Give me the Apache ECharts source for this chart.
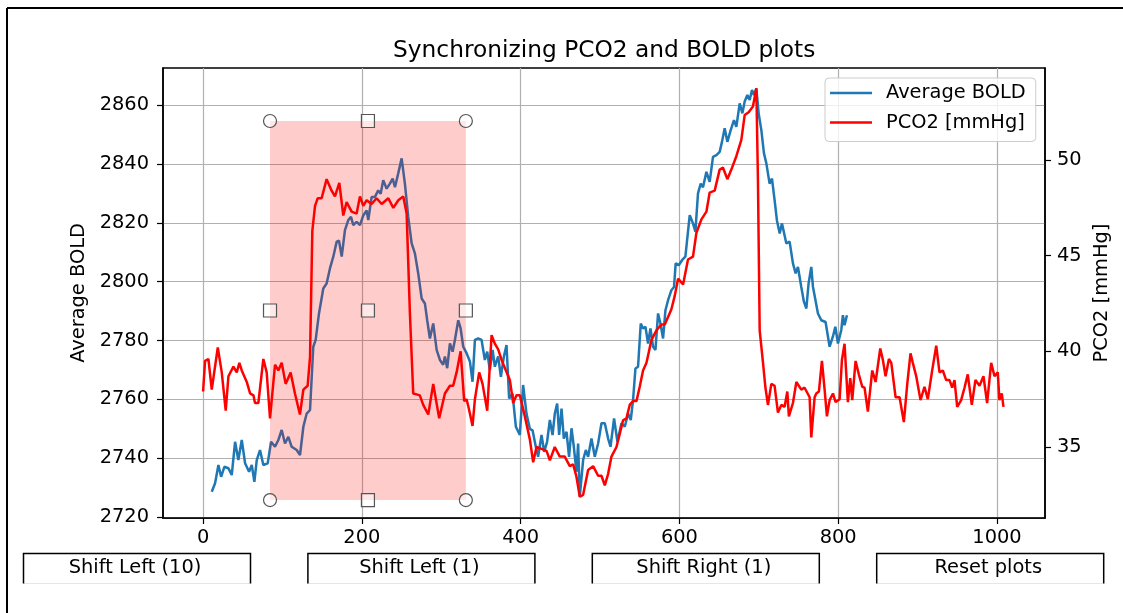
<!DOCTYPE html>
<html>
<head>
<meta charset="utf-8">
<script src="https://cdn.jsdelivr.net/npm/echarts@6/dist/echarts.min.js"></script>
<style>
  html, body { margin: 0; padding: 0; background: #ffffff; }
  #chart { width: 1123px; height: 613px; }
</style>
</head>
<body>
<div id="chart"></div>
<script>
// Average BOLD signal (left axis)
const boldTime = [10.9, 15.1, 19.3, 22.7, 26.8, 31.9, 36.1, 40.3, 44.4, 48.7, 52.9, 57.9, 61.3, 64.6, 67.6, 71.7, 75.9, 81.4, 85.6, 90.6,
  94.8, 99, 103.2, 107.4, 111.6, 117.9, 122.1, 126.3, 130.5, 134.7, 138.8, 141.8, 146, 151.4, 155.6, 159.8, 164, 168.3, 171.2, 174.6,
  178.7, 182.9, 186.3, 189.2, 193.4, 197.6, 201.8, 206, 208.1, 212.3, 216.5, 220.6, 223.7, 226.9, 231.2, 235.3, 238.8, 241.7, 245.8, 250.1,
  254.2, 258.4, 262.7, 266.8, 271, 275.3, 279.4, 282.3, 285.7, 289.9, 294.2, 298.3, 302.4, 304.6, 307.5, 310.9, 314.3, 317.2, 321.4, 324.4,
  327.7, 331.9, 336.1, 339.4, 342.4, 346.5, 350.8, 354.9, 357.9, 361.2, 364.7, 367.5, 371.7, 375.1, 378.9, 382.2, 385.5, 389.8, 394, 399,
  403.1, 407.4, 411.6, 415, 419.1, 422, 426.3, 429.6, 433.3, 436.8, 440.2, 443, 446, 448.5, 451.5, 454.4, 457.8, 461, 464.1, 467,
  470.3, 472.4, 474.5, 478.7, 482.1, 485, 489.2, 493.4, 497.6, 501.8, 506, 510.2, 513.2, 517.7, 521.9, 527, 531.2, 535.3, 538.7, 541.6,
  544.6, 547.9, 551.3, 554.2, 557.2, 560.5, 563.5, 566.8, 569.8, 573.1, 576.1, 579.4, 582.4, 585.7, 589.9, 593.2, 595.3, 599.1, 603.3, 607.5,
  613, 617.1, 620.1, 623.4, 626.8, 629.7, 634, 638.1, 642.3, 646.6, 650.7, 653.6, 657, 660.4, 664.6, 668.7, 671.7, 675.9, 679.3, 682.2,
  685.6, 688.5, 691.4, 693.9, 696.9, 699.8, 703.2, 706.5, 709.5, 713.6, 716.6, 719.9, 722.8, 726.3, 729.2, 731.6, 734.7, 738.8, 743, 746.4,
  749.3, 753.5, 756.8, 759.9, 762.7, 766.1, 768.2, 774.5, 778.7, 784.1, 789.2, 793.3, 796.4, 799.7, 803.9, 805.9, 808, 811];
const boldValues = [2728.6, 2731.5, 2737.7, 2733.7, 2737.1, 2736.6, 2734.3, 2745.6, 2739.4, 2746.2, 2738.3, 2735.4, 2737.7, 2732.0, 2739.4, 2742.8, 2737.7, 2738.3, 2745.6, 2743.9,
  2746.2, 2749.6, 2745.0, 2747.3, 2743.9, 2742.8, 2741.1, 2750.7, 2755.2, 2756.4, 2777.9, 2780.2, 2789.2, 2797.7, 2799.4, 2804.5, 2808.5, 2813.6, 2813.9, 2808.5,
  2817.5, 2820.9, 2822.0, 2819.2, 2820.3, 2819.2, 2822.5, 2824.2, 2820.9, 2828.8, 2828.8, 2831.0, 2829.9, 2834.5, 2831.6, 2833.3, 2835.0, 2832.1, 2836.8, 2841.9,
  2833.3, 2822.0, 2813.0, 2809.6, 2802.8, 2794.3, 2792.6, 2786.9, 2780.7, 2785.8, 2776.8, 2773.4, 2771.8, 2774.6, 2770.6, 2779.0, 2776.2, 2780.2, 2786.9, 2784.1,
  2777.9, 2775.7, 2772.9, 2766.0, 2780.2, 2780.7, 2780.2, 2773.4, 2776.2, 2770.0, 2776.8, 2771.1, 2774.6, 2767.7, 2774.6, 2778.5, 2760.3, 2762.0, 2750.7, 2747.9,
  2764.9, 2755.1, 2750.0, 2749.5, 2743.9, 2740.5, 2747.9, 2742.2, 2745.6, 2753.0, 2747.9, 2755.1, 2758.6, 2747.9, 2756.9, 2746.7, 2749.0, 2740.5, 2750.2, 2743.9,
  2735.4, 2745.0, 2727.0, 2739.4, 2742.8, 2740.5, 2746.7, 2740.5, 2745.0, 2751.9, 2751.9, 2746.7, 2743.9, 2753.5, 2745.6, 2751.9, 2750.7, 2755.2, 2753.0, 2759.8,
  2770.5, 2771.1, 2785.8, 2784.1, 2784.7, 2779.0, 2784.1, 2777.9, 2776.8, 2789.2, 2785.8, 2780.7, 2790.3, 2793.7, 2797.1, 2798.2, 2806.2, 2805.6, 2807.3, 2808.5,
  2822.6, 2819.8, 2817.0, 2830.0, 2833.3, 2832.1, 2837.3, 2833.9, 2842.4, 2843.0, 2844.1, 2847.5, 2852.1, 2847.5, 2851.5, 2854.9, 2852.6, 2860.6, 2857.2, 2861.2,
  2863.4, 2861.7, 2865.1, 2863.4, 2865.7, 2857.2, 2851.5, 2843.6, 2840.2, 2833.3, 2835.0, 2827.7, 2820.9, 2816.4, 2819.8, 2820.3, 2813.0, 2813.6, 2806.2, 2802.8,
  2805.0, 2798.2, 2793.2, 2790.9, 2799.4, 2805.0, 2798.3, 2789.2, 2786.9, 2786.3, 2777.9, 2781.3, 2784.7, 2779.0, 2783.6, 2788.6, 2785.2, 2788.6];

// PCO2 trace in mmHg (right axis)
const pco2Time = [0, 2.5, 6.7, 10.9, 18.5, 23.5, 28.5, 31.9, 38.2, 42.4, 45.7, 48.7, 55, 59.2, 63.4, 65.4, 69.6, 75.9, 80.1, 84.3,
  90.6, 94.8, 99, 104, 110.3, 115.7, 122, 126.3, 131.7, 134.7, 137.6, 141, 144.3, 149.3, 155.6, 161.9, 166.1, 171.6, 176.6, 180.8,
  187.1, 193.4, 197.6, 201.8, 206, 212.3, 218.6, 224.9, 233.3, 239.6, 245.9, 252.1, 256.4, 260.5, 264.7, 268.9, 273, 277.3, 283.6, 289.9,
  297.4, 304.6, 310.9, 315, 319.3, 324.4, 328.9, 331.9, 334.8, 339.4, 342.4, 347.8, 352, 357.9, 363.4, 367.5, 371.7, 376, 381.4, 386.4,
  390.6, 394.8, 399, 405.3, 411.6, 415.8, 420, 426.3, 432.6, 436.8, 443, 449.3, 455.6, 461.9, 466.1, 470.3, 474.5, 478.7, 485, 491.3,
  497.6, 501.8, 506, 510.2, 514.4, 520.7, 524.9, 529, 533.3, 537.4, 541.6, 545.9, 550, 554.2, 558.5, 564.8, 571.1, 577.3, 581.5, 585.7,
  589.9, 594.1, 598.3, 604.6, 610.8, 617.1, 621.4, 627.7, 634, 638.1, 644.4, 650.7, 654.9, 660.4, 665.4, 671.7, 678, 682.2, 687.2, 692.6,
  696.9, 698.9, 701.1, 705.3, 708.2, 711.5, 715.8, 719.9, 724.1, 728.4, 732.5, 735.9, 737.9, 743, 747.3, 753.5, 757.7, 764, 766.1, 770.3,
  772.4, 775.7, 779.5, 782.9, 785.8, 789.2, 793.4, 796.7, 801.8, 804.7, 808, 812.2, 815.2, 817.7, 821.9, 826, 830.3, 833.2, 837.4, 842.9,
  847.1, 853, 856.3, 859.7, 863.9, 866.9, 872.3, 877.3, 882.7, 887, 891.1, 894, 898.3, 903.7, 908.7, 912.9, 918, 923.5, 927.6, 931.8,
  936, 940.2, 943.6, 946.5, 949.9, 954.9, 959.1, 963.2, 968.3, 972.9, 978, 983, 987.6, 992.7, 996.9, 1001, 1003.1, 1006, 1008.2];
const pco2Values = [37.9, 39.5, 39.6, 38.0, 40.2, 38.9, 36.9, 38.7, 39.2, 38.9, 39.4, 39.0, 38.4, 37.8, 37.7, 37.3, 37.3, 39.6, 38.9, 36.5,
  39.3, 39.0, 39.4, 38.3, 38.9, 37.8, 36.7, 38.0, 38.2, 39.7, 46.3, 47.6, 48.0, 48.0, 49.0, 48.4, 48.1, 48.8, 47.1, 47.8,
  47.3, 47.2, 48.1, 47.6, 47.9, 47.7, 48.0, 47.7, 48.0, 47.5, 47.9, 48.1, 47.2, 42.0, 37.8, 37.75, 37.7, 37.2, 36.7, 38.3,
  36.5, 37.8, 38.2, 38.2, 38.9, 40.0, 37.4, 37.5, 37.0, 36.1, 37.5, 38.9, 38.3, 36.9, 40.85, 40.4, 40.1, 39.55, 39.0, 38.5,
  37.3, 37.7, 37.7, 36.6, 35.4, 34.2, 35.0, 34.9, 34.8, 34.3, 35.0, 34.5, 34.5, 34.0, 34.1, 33.45, 32.4, 32.5, 33.8, 34.0,
  33.5, 33.5, 33.0, 33.6, 34.5, 35.0, 35.7, 36.4, 36.5, 37.2, 37.4, 37.4, 38.15, 39.0, 39.4, 40.6, 41.1, 41.4, 41.4, 41.8,
  42.2, 42.9, 43.8, 43.5, 44.8, 44.95, 46.2, 46.9, 47.3, 48.3, 48.4, 49.5, 49.6, 49.0, 49.5, 50.2, 51.05, 52.35, 52.5, 52.8,
  53.75, 49.0, 41.1, 39.4, 38.15, 37.2, 38.3, 38.2, 36.8, 37.2, 37.1, 37.9, 36.6, 37.3, 38.4, 38.0, 38.1, 37.6, 35.5, 37.6,
  37.8, 37.9, 39.5, 38.0, 36.6, 37.45, 37.8, 37.35, 37.5, 39.55, 40.4, 37.35, 38.6, 37.45, 39.5, 38.8, 38.15, 38.1, 36.85, 39.0,
  38.4, 40.15, 39.55, 38.7, 39.6, 39.4, 37.6, 37.6, 36.3, 38.3, 39.9, 39.4, 38.7, 37.45, 38.15, 37.5, 38.9, 40.3, 38.9, 39.0,
  38.5, 38.5, 38.1, 38.5, 37.1, 37.45, 38.1, 38.8, 37.2, 38.5, 38.2, 38.7, 37.3, 39.4, 38.7, 38.9, 37.45, 37.8, 37.1];

// Tick values
const xTicks = [0, 200, 400, 600, 800, 1000];
const boldTicks = [2720, 2740, 2760, 2780, 2800, 2820, 2840, 2860];
const pco2Ticks = [35, 40, 45, 50];

// Selection rectangle (time range, BOLD range)
const selectionX = [84.3, 331];
const selectionY = [2725.8, 2854.6];

// Control buttons under the plot
const buttonLabels = ['Shift Left (10)', 'Shift Left (1)', 'Shift Right (1)', 'Reset plots'];

const FONT = 'DejaVu Sans';
const TICK_FONT = 19.4;
const plain = v => String(v);

const boldData = boldTime.map((t, i) => [t, boldValues[i]]);
const pco2Data = pco2Time.map((t, i) => [t, pco2Values[i]]);

const [sx0, sx1] = selectionX;
const [sy0, sy1] = selectionY;
const sxm = (sx0 + sx1) / 2;
const sym = (sy0 + sy1) / 2;
const handleStyle = { color: 'rgba(255,255,255,0.55)', borderColor: '#555555', borderWidth: 1.2 };
const handles = [
  [sx0, sy1, 'circle'], [sx1, sy1, 'circle'], [sx0, sy0, 'circle'], [sx1, sy0, 'circle'],
  [sxm, sy1, 'rect'], [sx0, sym, 'rect'], [sx1, sym, 'rect'], [sxm, sy0, 'rect'], [sxm, sym, 'rect']
].map(([x, y, s]) => ({ coord: [x, y], symbol: s, itemStyle: handleStyle }));

// Buttons drawn as graphic groups
const buttons = [];
const BTN_W = 227, BTN_H = 30, BTN_TOP = 551;
buttonLabels.forEach((label, i) => {
  const left = 21 + i * 284.4;
  buttons.push({
    type: 'group', left: left, top: BTN_TOP,
    children: [
      { type: 'rect', shape: { x: 0, y: 0, width: BTN_W, height: BTN_H }, style: { fill: '#ffffff' } },
      { type: 'line', shape: { x1: 0, y1: BTN_H, x2: BTN_W, y2: BTN_H }, style: { stroke: '#e6e6e6', lineWidth: 1 } },
      { type: 'polyline', shape: { points: [[0, BTN_H], [0, 0], [BTN_W, 0], [BTN_W, BTN_H]] }, style: { stroke: '#000000', lineWidth: 1.5, fill: null } },
      { type: 'text', x: BTN_W / 2 - 2, y: 14, style: { text: label, font: TICK_FONT + 'px "' + FONT + '"', fill: '#000000', align: 'center', verticalAlign: 'middle' } }
    ]
  });
});

const chart = echarts.init(document.getElementById('chart'), null, { renderer: 'canvas' });

chart.setOption({
  animation: false,
  backgroundColor: '#ffffff',
  textStyle: { fontFamily: FONT },
  title: {
    text: 'Synchronizing PCO2 and BOLD plots',
    left: 388, top: 34,
    textStyle: { fontFamily: FONT, fontSize: 23.3, fontWeight: 'normal', color: '#000000' }
  },
  legend: {
    data: ['Average BOLD', 'PCO2 [mmHg]'],
    orient: 'vertical',
    left: 825, top: 78,
    icon: 'rect',
    itemWidth: 42, itemHeight: 2.5,
    itemGap: 7.5,
    padding: [4, 10, 8, 5],
    backgroundColor: 'rgba(255,255,255,0.8)',
    borderColor: '#cccccc', borderWidth: 1, borderRadius: 4,
    textStyle: { fontFamily: FONT, fontSize: TICK_FONT, color: '#000000', padding: [0, 0, 0, 9], lineHeight: 22 }
  },
  grid: {
    left: 163, right: 78, top: 68, bottom: 95,
    show: true, borderColor: '#000000', borderWidth: 1.5, backgroundColor: 'transparent'
  },
  xAxis: {
    type: 'value',
    min: -50.5, max: 1060.5,
    axisLine: { show: true, onZero: false, lineStyle: { color: '#000000', width: 1.5 } },
    axisTick: { show: true, customValues: xTicks, length: 6, lineStyle: { color: '#000000', width: 1.2 } },
    axisLabel: { customValues: xTicks, formatter: plain, fontFamily: FONT, fontSize: TICK_FONT, color: '#000000', margin: 10 },
    splitLine: { show: true, lineStyle: { color: '#b0b0b0', width: 1.2 } }
  },
  yAxis: [
    {
      type: 'value', position: 'left',
      min: 2719.7, max: 2872.6,
      name: 'Average BOLD', nameLocation: 'middle', nameGap: 70,
      nameTextStyle: { fontFamily: FONT, fontSize: TICK_FONT, color: '#000000' },
      axisLine: { show: true, onZero: false, lineStyle: { color: '#000000', width: 1.5 } },
      axisTick: { show: true, customValues: boldTicks, length: 6, lineStyle: { color: '#000000', width: 1.2 } },
      axisLabel: { customValues: boldTicks, formatter: plain, fontFamily: FONT, fontSize: TICK_FONT, color: '#000000', margin: 14 },
      splitLine: { show: true, lineStyle: { color: '#b0b0b0', width: 1.2 } }
    },
    {
      type: 'value', position: 'right',
      min: 31.29, max: 54.81,
      name: 'PCO2 [mmHg]', nameLocation: 'middle', nameGap: 43,
      nameTextStyle: { fontFamily: FONT, fontSize: TICK_FONT, color: '#000000' },
      axisLine: { show: true, onZero: false, lineStyle: { color: '#000000', width: 1.5 } },
      axisTick: { show: true, customValues: pco2Ticks, length: 6, lineStyle: { color: '#000000', width: 1.2 } },
      axisLabel: { customValues: pco2Ticks, formatter: plain, fontFamily: FONT, fontSize: TICK_FONT, color: '#000000', margin: 12 },
      splitLine: { show: false }
    }
  ],
  series: [
    {
      name: 'Average BOLD', type: 'line', yAxisIndex: 0, data: boldData,
      showSymbol: false, symbol: 'none', z: 2,
      color: '#1f77b4', lineStyle: { color: '#1f77b4', width: 2.5 }
    },
    {
      name: 'PCO2 [mmHg]', type: 'line', yAxisIndex: 1, data: pco2Data,
      showSymbol: false, symbol: 'none', z: 3,
      color: '#ff0000', lineStyle: { color: '#ff0000', width: 2.5 }
    },
    {
      name: 'selection', type: 'line', yAxisIndex: 0, data: [],
      showSymbol: false, z: 6, silent: true,
      markArea: {
        z: 10, silent: true,
        itemStyle: { color: 'rgba(255,0,0,0.2)', borderWidth: 0 },
        data: [[{ coord: [sx0, sy0] }, { coord: [sx1, sy1] }]]
      },
      markPoint: {
        z: 11, silent: true,
        symbolSize: 13,
        label: { show: false },
        data: handles
      }
    }
  ],
  graphic: [
    { type: 'line', shape: { x1: 7, y1: 8, x2: 1123, y2: 8 }, style: { stroke: '#000000', lineWidth: 2 } },
    { type: 'line', shape: { x1: 7, y1: 8, x2: 7, y2: 613 }, style: { stroke: '#000000', lineWidth: 2 } }
  ].concat(buttons)
});
</script>
</body>
</html>
